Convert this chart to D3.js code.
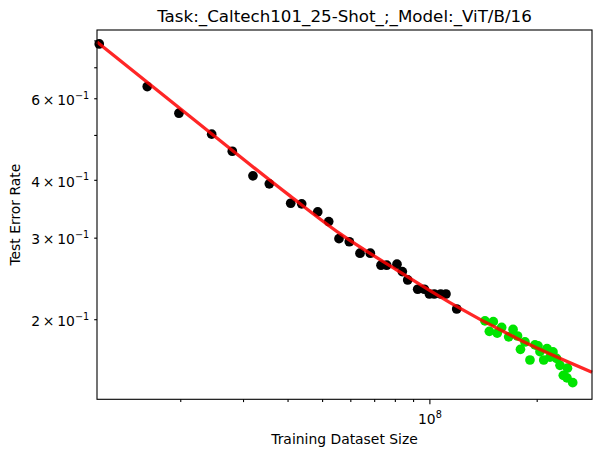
<!DOCTYPE html>
<html>
<head>
<meta charset="utf-8">
<script src="https://cdn.jsdelivr.net/npm/d3@7"></script>
<style>
  body { margin: 0; background: #fff; }
  svg text { font-family: "DejaVu Sans", sans-serif; fill: #000; }
</style>
</head>
<body>
<div id="chart"></div>
<script>
// points used for the fit (black)
const blackSize = [1.185e7, 1.616e7, 1.983e7, 2.450e7, 2.799e7, 3.199e7, 3.555e7, 4.082e7, 4.383e7,
    4.861e7, 5.218e7, 5.577e7, 5.961e7, 6.388e7, 6.827e7, 7.315e7, 7.589e7, 8.111e7, 8.395e7,
    8.693e7, 9.272e7, 9.676e7, 1.000e8, 1.032e8, 1.076e8, 1.113e8, 1.193e8];
const blackError = [0.786, 0.636, 0.557, 0.502, 0.461, 0.408, 0.392, 0.356, 0.355,
    0.341, 0.325, 0.2985, 0.294, 0.2777, 0.2777, 0.2616, 0.2616, 0.2629, 0.2534,
    0.2431, 0.2321, 0.2321, 0.2267, 0.2267, 0.2267, 0.2267, 0.2104];

// held out points (green)
const greenSize = [1.432e8, 1.511e8, 1.473e8, 1.550e8, 1.595e8, 1.669e8, 1.717e8, 1.767e8, 1.854e8,
    1.801e8, 1.915e8, 1.978e8, 2.017e8, 2.043e8, 2.138e8, 2.093e8, 2.222e8, 2.180e8, 2.273e8,
    2.325e8, 2.440e8, 2.375e8, 2.432e8, 2.524e8];
const greenError = [0.1983, 0.1976, 0.1883, 0.1866, 0.1920, 0.1832, 0.1901, 0.1840, 0.1786,
    0.1722, 0.1633, 0.1760, 0.1752, 0.1702, 0.1728, 0.1633, 0.1700, 0.1656, 0.1646,
    0.1590, 0.1568, 0.1513, 0.1494, 0.1459];

// fitted curve
const fitSize = [1.168e7, 2.130e7, 4.064e7, 5.613e7, 8.006e7, 1.142e8, 1.796e8, 2.859e8];
const fitError = [0.794, 0.5481, 0.3692, 0.3060, 0.2568, 0.2172, 0.1804, 0.1537];

// ticks
const xMajorTicks = [1e8];
const xMinorTicks = [2e7, 3e7, 4e7, 5e7, 6e7, 7e7, 8e7, 9e7, 2e8];
const yTicks = [0.2, 0.3, 0.4, 0.5, 0.6, 0.7, 0.8];
const yLabelTicks = [0.2, 0.3, 0.4, 0.6];

const xDomain = [1.168e7, 2.859e8];
const yDomain = [0.1343, 0.8425];

class ScalingChart {
    constructor(_config) {
        this.config = {
            parentElement: _config.parentElement,
            containerWidth: _config.containerWidth || 602,
            containerHeight: _config.containerHeight || 457,
            margin: _config.margin || {top: 30, right: 10, bottom: 57.7, left: 97}
        }
        this.initVis();
    }

    initVis() {
        let vis = this;

        vis.width = vis.config.containerWidth - vis.config.margin.left - vis.config.margin.right;
        vis.height = vis.config.containerHeight - vis.config.margin.top - vis.config.margin.bottom;

        vis.svg = d3.select(vis.config.parentElement)
            .append("svg")
            .attr("width", vis.config.containerWidth)
            .attr("height", vis.config.containerHeight)
            .append("g")
            .attr("transform", `translate(${vis.config.margin.left},${vis.config.margin.top})`);

        vis.xScale = d3.scaleLog().domain(xDomain).range([0, vis.width]);
        vis.yScale = d3.scaleLog().domain(yDomain).range([vis.height, 0]);

        vis.xMinorAxis = d3.axisBottom(vis.xScale).tickValues(xMinorTicks).tickSize(2.8).tickSizeOuter(0).tickFormat("");
        vis.xMajorAxis = d3.axisBottom(vis.xScale).tickValues(xMajorTicks).tickSize(4.9).tickSizeOuter(0).tickFormat("");
        vis.yAxis = d3.axisLeft(vis.yScale).tickValues(yTicks).tickSize(2.8).tickSizeOuter(0).tickFormat("");

        // Title and axis labels
        vis.svg.append("text")
            .attr("x", vis.width / 2)
            .attr("y", -8.3)
            .attr("text-anchor", "middle")
            .attr("font-size", 16.7)
            .text("Task:_Caltech101_25-Shot_;_Model:_ViT/B/16");

        vis.svg.append("text")
            .attr("x", vis.width / 2)
            .attr("y", vis.height + 45)
            .attr("text-anchor", "middle")
            .attr("font-size", 13.9)
            .text("Training Dataset Size");

        vis.svg.append("text")
            .attr("transform", `translate(${-76.8},${vis.height / 2}) rotate(-90)`)
            .attr("text-anchor", "middle")
            .attr("font-size", 13.9)
            .text("Test Error Rate");

        vis.renderVis();
    }

    // mantissa x 10^exp, the way the log axis prints it
    powerLabel(sel, base, exp) {
        sel.append("tspan").text(base);
        sel.append("tspan")
            .attr("dy", -6.2)
            .attr("font-size", 9.7)
            .text(exp);
    }

    renderVis() {
        let vis = this;

        vis.svg.append("g")
            .selectAll("circle")
            .data(blackSize.map((d, i) => ({size: d, error: blackError[i]})))
            .join("circle")
                .attr("cx", d => vis.xScale(d.size))
                .attr("cy", d => vis.yScale(d.error))
                .attr("r", 4.85)
                .attr("fill", "#000");

        vis.svg.append("g")
            .selectAll("circle")
            .data(greenSize.map((d, i) => ({size: d, error: greenError[i]})))
            .join("circle")
                .attr("cx", d => vis.xScale(d.size))
                .attr("cy", d => vis.yScale(d.error))
                .attr("r", 4.85)
                .attr("fill", "#00e400");

        const line = d3.line()
            .x(d => vis.xScale(d.size))
            .y(d => vis.yScale(d.error))
            .curve(d3.curveMonotoneX);

        vis.svg.append("path")
            .datum(fitSize.map((d, i) => ({size: d, error: fitError[i]})))
            .attr("d", line)
            .attr("fill", "none")
            .attr("stroke", "#ff0000")
            .attr("stroke-opacity", 0.85)
            .attr("stroke-width", 3.3);

        // axes (tick marks only)
        vis.svg.append("g").attr("transform", `translate(0,${vis.height})`).call(vis.xMinorAxis);
        const xMajor = vis.svg.append("g").attr("transform", `translate(0,${vis.height})`).call(vis.xMajorAxis);
        const yAx = vis.svg.append("g").call(vis.yAxis);
        vis.svg.selectAll(".domain").remove();

        xMajor.selectAll(".tick")
            .append("text")
            .attr("y", 24.7)
            .attr("text-anchor", "middle")
            .attr("font-size", 13.9)
            .each(function(d) { vis.powerLabel(d3.select(this), "10", String(Math.round(Math.log10(d)))); });

        yAx.selectAll(".tick")
            .filter(d => yLabelTicks.includes(d))
            .append("text")
            .attr("x", -7.8)
            .attr("y", 6.3)
            .attr("text-anchor", "end")
            .attr("font-size", 13.9)
            .each(function(d) { vis.powerLabel(d3.select(this), `${Math.round(d * 10)}\u2009×\u200910`, "\u22121"); });

        vis.svg.selectAll(".tick line").attr("stroke", "#000").attr("stroke-width", 1.1);

        // frame
        vis.svg.append("rect")
            .attr("width", vis.width)
            .attr("height", vis.height)
            .attr("fill", "none")
            .attr("stroke", "#000")
            .attr("stroke-width", 1.1);
    }
}

new ScalingChart({parentElement: "#chart"});
</script>
</body>
</html>
